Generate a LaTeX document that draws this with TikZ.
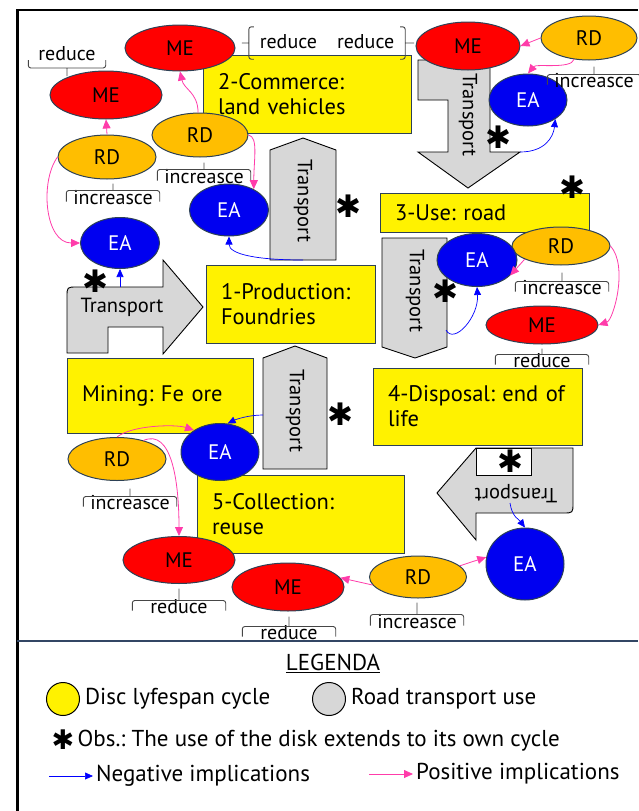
\documentclass[tikz,border=0pt]{standalone}
\usepackage{fontspec}
\setmainfont{PT Sans}
\newfontfamily\astfont{DejaVu Sans}
\usepackage{tikz}
\usetikzlibrary{
  arrows.meta,
  shapes.geometric,
  positioning,
  calc
}
\definecolor{boxline}{RGB}{45,65,85}
\definecolor{mered}{RGB}{255,0,0}
\definecolor{rdorange}{RGB}{255,190,0}
\definecolor{eablue}{RGB}{0,0,240}
\definecolor{trgray}{RGB}{215,215,215}
\definecolor{pinkarr}{RGB}{255,60,170}
\definecolor{negblue}{RGB}{0,0,255}
\definecolor{bracegray}{RGB}{70,70,70}
\definecolor{sepline}{RGB}{50,70,100}
\frenchspacing

\begin{document}
\begin{tikzpicture}[
      x=1pt, y=-1pt,
      stage/.style 2 args={
         rectangle,
         draw=boxline, line width=1pt,
         fill=yellow,
         inner xsep=15pt, inner ysep=0pt,
         text width=#1, minimum height=#2,
         align=left,
         font=\fontsize{22.5}{25}\selectfont
      },
      road/.style={draw=black, line width=0.9pt, fill=trgray},
      roadtext/.style={font=\fontsize{20.5}{20.5}\selectfont},
      me/.style 2 args={
         ellipse, draw=boxline, line width=1pt, fill=mered,
         inner sep=0pt, minimum width=#1, minimum height=#2,
         font=\fontsize{21}{21}\selectfont
      },
      rd/.style 2 args={
         ellipse, draw=boxline, line width=1pt, fill=rdorange,
         inner sep=0pt, minimum width=#1, minimum height=#2,
         font=\fontsize{21}{21}\selectfont
      },
      ea/.style 2 args={
         ellipse, draw=boxline, line width=1pt, fill=eablue, text=white,
         inner sep=0pt, minimum width=#1, minimum height=#2,
         font=\fontsize{21}{21}\selectfont
      },
      note/.style={
         font=\fontsize{20}{20}\selectfont, inner sep=0pt,
         text height=10pt, text depth=0pt, minimum width=93pt
      },
      bkt/.style 2 args={
         draw=bracegray, line width=0.9pt, rounded corners=2.5pt,
         to path={(\tikztostart) -- ++(0,#1) -| (\tikztotarget)
                  ($(\tikztostart)!.5!(\tikztotarget)+(0,#1)$) -- ++(0,#2)}
      },
      vbkt/.style 2 args={
         draw=bracegray, line width=0.9pt, rounded corners=2.5pt,
         to path={(\tikztostart) -- ++(#1,0) |- (\tikztotarget)
                  ($(\tikztostart)!.5!(\tikztotarget)+(#1,0)$) -- ++(#2,0)}
      },
      ast/.style={font=\astfont\fontsize{31}{31}\selectfont, inner sep=0pt,
         text height=20pt, text depth=0pt},
      posarr/.style={draw=pinkarr, line width=0.8pt, -{Triangle[length=9pt,width=8pt]}},
      negarr/.style={draw=negblue, line width=0.7pt, -{Triangle[length=8pt,width=7pt]}},
      legtext/.style={font=\fontsize{23}{23}\selectfont, inner sep=3pt}
    ]
    \useasboundingbox (0,0) rectangle (638,811);

    % frame and legend rule
    \draw[line width=3pt] (17,811) -- (17,10);
    \draw[line width=2pt] (16,10) -- (638,10);
    \draw[sepline, line width=1.5pt] (17,641) -- (638,641);

    % road transport arrows
    \draw[road] (418,60) -- (482,60) .. controls (490,60) .. (490,68) -- (490,152) -- (520,152)
       -- (468,188) -- (418,152) -- (448,152) -- (448,100) -- (418,100) -- cycle;
    \draw[road] (270,260) -- (270,150) -- (303,138) -- (336,150) -- (336,260) -- cycle;
    \draw[road] (382,238) -- (447,238) -- (447,347) -- (415,358) -- (382,347) -- cycle;
    \draw[road] (263,469) -- (263,358) -- (295,346) -- (327,358) -- (327,469) -- cycle;
    \draw[road] (67,353) -- (67,297) .. controls (67,287) .. (77,287) -- (163,287) -- (163,260)
       -- (203,307) -- (163,354) -- (163,327) -- (108,327) -- (108,353) -- cycle;
    \draw[road] (476,448) -- (573,448) -- (573,503) .. controls (573,513) .. (563,513)
       -- (476,513) -- (476,540) -- (437,493) -- cycle;
    \draw[line width=0.9pt, fill=white] (476,448) rectangle (531,475);

    \node[roadtext, rotate=-90] (tr1) at (468,115) {Transport};
    \node[roadtext, rotate=-90] (tr2) at (303,201) {Transport};
    \node[roadtext, rotate=-90] (tr3) at (415,291) {Transport};
    \node[roadtext, rotate=-90] (tr4) at (295,411) {Transport};
    \node[roadtext] (tr5) at (122,307) {Transport};
    \node[roadtext, rotate=180] (tr6) at (516,494) {Transport};

    \coordinate (t1e) at (520,152);
    \coordinate (t2s) at (303,260);
    \coordinate (t3e) at (446,330);
    \coordinate (t4w) at (263,415);
    \coordinate (t5n) at (120,287);
    \coordinate (t6s) at (510,503);

    % label partly under the disposal box
    \node[note, anchor=base] (red4) at (542,367) {reduce};
    \draw[bkt={-10}{-6}] (red4.mid west) to (red4.mid east);

    % life cycle stages
    \node[stage={178pt}{78pt}] (comm) at (307,94) {2-Commerce:\\land vehicles};
    \node[stage={179pt}{39pt}] (use) at (484.5,212.5) {3-Use: road};
    \node[stage={139pt}{78pt}] (prod) at (290.5,304) {1-Production:\\Foundries};
    \node[stage={156pt}{75pt}] (mine) at (160,395.5) {Mining: Fe ore};
    \node[stage={179pt}{77pt}] (disp) at (477.5,406.5) {4-Disposal: end of\\life};
    \node[stage={177pt}{78pt}] (coll) at (300.5,514) {5-Collection:\\reuse};

    % ME / RD / EA
    \node[me={110pt}{46pt}] (me1) at (180,48) {ME};
    \node[me={112pt}{48pt}] (me2) at (106,95) {ME};
    \node[me={104pt}{48pt}] (me3) at (468,46) {ME};
    \node[me={112pt}{38pt}] (me4) at (542,325) {ME};
    \node[me={112pt}{47pt}] (me5) at (179,560) {ME};
    \node[me={112pt}{48pt}] (me6) at (288,587) {ME};

    \node[rd={98pt}{44pt}] (rd1) at (107,157) {RD};
    \node[rd={96pt}{44pt}] (rd2) at (200,135) {RD};
    \node[rd={96pt}{44pt}] (rd3) at (589,38) {RD};
    \node[rd={98pt}{38pt}] (rd4) at (561,246) {RD};
    \node[rd={98pt}{43pt}] (rd5) at (117,459) {RD};
    \node[rd={97pt}{42pt}] (rd6) at (418,577) {RD};

    \node[ea={79pt}{51pt}] (ea1) at (120,243) {EA};
    \node[ea={79pt}{52pt}] (ea2) at (229,210) {EA};
    \node[ea={78pt}{52pt}] (ea3) at (528,100) {EA};
    \node[ea={80pt}{53pt}] (ea4) at (477,260) {EA};
    \node[ea={78pt}{57pt}] (ea5) at (220,452) {EA};
    \node[ea={78pt}{72pt}] (ea6) at (525,564) {EA};

    % reduce / increasce labels
    \node[note, minimum width=146pt, minimum height=32pt] (redtop) at (327,43) {reduce\quad reduce};
    \draw[vbkt={-5}{-7}] (redtop.north west) to (redtop.south west);
    \draw[vbkt={5}{9}] (redtop.north east) to (redtop.south east);
    \node[note, anchor=base, minimum width=77pt] (red2) at (67,60) {reduce};
    \draw[bkt={8}{8}] (red2.base west) to (red2.base east);
    \node[note, anchor=base] (inc1) at (113,204) {increasce};
    \draw[bkt={-11}{-7}] (inc1.mid west) to (inc1.mid east);
    \node[note, anchor=base] (inc2) at (204,183) {increasce};
    \draw[bkt={-11}{-7}] (inc2.mid west) to (inc2.mid east);
    \node[note, anchor=base] (inc3) at (594,87) {increasce};
    \draw[bkt={-10}{-8}] (inc3.mid west) to (inc3.mid east);
    \node[note, anchor=base] (inc4) at (562,294) {increasce};
    \draw[bkt={-10}{-9}] (inc4.mid west) to (inc4.mid east);
    \node[note, anchor=base] (inc5) at (130,509) {increasce};
    \draw[bkt={-10}{-8}] (inc5.mid west) to (inc5.mid east);
    \node[note, anchor=base] (red5) at (179,613) {reduce};
    \draw[bkt={-10}{-12}] (red5.mid west) to (red5.mid east);
    \node[note, anchor=base] (red6) at (289,639) {reduce};
    \draw[bkt={-10}{-10}] (red6.mid west) to (red6.mid east);
    \node[note, anchor=base] (inc6) at (417,628) {increasce};
    \draw[bkt={-11}{-12}] (inc6.mid west) to (inc6.mid east);

    % positive implications
    \draw[posarr] (rd2.95) .. controls +(0,-20) and +(4,18) .. (me1.south);
    \draw[posarr] (rd1.north) -- (me2.south);
    \draw[posarr] (rd1.west) .. controls +(-18,25) and +(-35,0) .. (ea1.west);
    \draw[posarr] (rd2.east) .. controls +(10,2) and +(0,-30) .. (ea2.40);
    \draw[posarr] (rd3.west) -- (me3.east);
    \draw[posarr] (rd3.235) .. controls +(-3,10) and +(8,-10) .. (ea3.north);
    \draw[posarr] (rd4.200) -- (ea4.-25);
    \draw[posarr] (rd4.east) .. controls +(18,20) and +(15,-5) .. (me4.east);
    \draw[posarr] (rd5.north) .. controls +(15,-12) and +(-18,-6) .. (ea5.140);
    \draw[posarr] (rd5.35) .. controls +(28,-12) and +(0,-55) .. (me5.north);
    \draw[posarr] (rd6.190) -- (me6.10);
    \draw[posarr] (rd6.15) -- (ea6.170);

    % negative implications
    \draw[negarr] (t1e) .. controls +(25,0) and +(-2,18) .. (ea3.-35);
    \draw[negarr] (t2s) .. controls +(-45,0) and +(0,18) .. (ea2.south);
    \draw[negarr] (t5n) -- (ea1.south);
    \draw[negarr] (t3e) .. controls +(8,15) and +(2,30) .. (ea4.south);
    \draw[negarr] (t4w) .. controls +(-15,0) and +(8,-4) .. (ea5.75);
    \draw[negarr] (t6s) .. controls +(2,14) and +(-6,-8) .. (ea6.north);

    % own cycle marks
    \node[ast] (s1) at (498,138) {✱};
    \node[ast] (s2) at (572,188) {✱};
    \node[ast] (s3) at (348,207) {✱};
    \node[ast] (s4) at (445,292) {✱};
    \node[ast] (s5) at (95,282) {✱};
    \node[ast] (s6) at (340,415) {✱};
    \node[ast] (s7) at (510,462) {✱};

    % legend
    \node[legtext] (legtitle) at (333,663) {\underline{LEGENDA}};
    \node[circle, draw=black, line width=1pt, fill=yellow, minimum size=33pt, inner sep=0pt] (kyel) at (63,699) {};
    \node[legtext, right=2pt of kyel] (kdisc) {Disc lyfespan cycle};
    \node[circle, draw=black, line width=1pt, fill=trgray, minimum size=33pt, inner sep=0pt] (kgray) at (329,699) {};
    \node[legtext, right=2pt of kgray] (kroad) {Road transport use};
    \node[ast, font=\astfont\fontsize{27}{27}\selectfont, text height=17pt] (kast) at (63,741) {✱};
    \node[legtext, right=0pt of kast] (kobs) {Obs.: The use of the disk extends to its own cycle};
    \coordinate (kneg) at (49,776);
    \node[legtext, anchor=west] (knegt) at (93,776) {Negative implications};
    \draw[negarr] (kneg) -- (knegt.west);
    \coordinate (kpos) at (369,774);
    \node[legtext, anchor=west] (kpost) at (413,774) {Positive implications};
    \draw[posarr] (kpos) -- (kpost.west);
\end{tikzpicture}
\end{document}
